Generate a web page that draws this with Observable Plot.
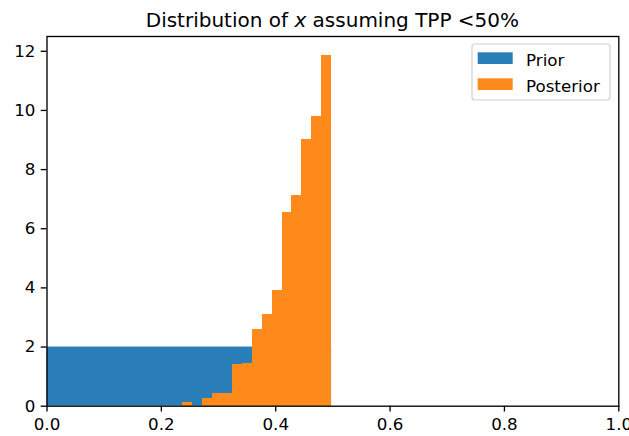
<!DOCTYPE html>
<html>
<head>
<meta charset="utf-8">
<script src="https://cdn.jsdelivr.net/npm/d3@7"></script>
<script src="https://cdn.jsdelivr.net/npm/@observablehq/plot@0.6"></script>
<style>
  html, body { margin: 0; padding: 0; background: #fff; }
  #chart { position: relative; width: 629px; height: 436px; }
</style>
</head>
<body>
<div id="chart"></div>
<script>
// ---- data ----
const seriesNames = ["Prior", "Posterior"];
const seriesColors = ["#2a7fb8", "#ff8a1c"];

// Prior histogram (density): one flat bin
const priorEdges = [0, 0.4977];
const priorDensity = [2];

// Posterior histogram (density): 15 bins
const posteriorEdges = [0.2376, 0.2550, 0.2723, 0.2897, 0.3070, 0.3243, 0.3417, 0.3590,
                        0.3764, 0.3937, 0.4110, 0.4284, 0.4457, 0.4631, 0.4804, 0.4977];
const posteriorDensity = [0.135, 0, 0.25, 0.42, 0.42, 1.40, 1.45, 2.59, 3.11, 3.92,
                          6.55, 7.12, 9.01, 9.81, 11.87];

const xTicks = [0, 0.2, 0.4, 0.6, 0.8, 1.0];
const yTicks = [0, 2, 4, 6, 8, 10, 12];

// ---- build tables ----
const toBins = (edges, dens, name) =>
  dens.map((d, i) => ({x1: edges[i], x2: edges[i + 1], y: d, series: name}));
const prior = toBins(priorEdges, priorDensity, seriesNames[0]);
const posterior = toBins(posteriorEdges, posteriorDensity, seriesNames[1]);

const W = 629, H = 436;
const ml = 46.5, mr = 10.7, mt = 36, mb = 30.3;
const lw = 1.33;

const plot = Plot.plot({
  width: W,
  height: H,
  marginLeft: ml,
  marginRight: mr,
  marginTop: mt,
  marginBottom: mb,
  style: {fontFamily: "DejaVu Sans", fontSize: "16.7px", color: "#000", background: "#fff", overflow: "visible"},
  x: {domain: [0, 1]},
  y: {domain: [0, 12.5]},
  color: {domain: seriesNames, range: seriesColors},
  marks: [
    Plot.rectY(prior, {x1: "x1", x2: "x2", y1: 0, y2: "y", fill: "series"}),
    Plot.rectY(posterior, {x1: "x1", x2: "x2", y1: 0, y2: "y", fill: "series", shapeRendering: "crispEdges"}),
    Plot.axisX({ticks: xTicks, tickFormat: d3.format(".1f"), tickSize: 5.8, tickPadding: 5.8,
                label: null, stroke: "#000", strokeWidth: lw, fill: "#000"}),
    Plot.axisY({ticks: yTicks, tickFormat: d3.format("d"), tickSize: 5.8, tickPadding: 5.8,
                label: null, stroke: "#000", strokeWidth: lw, fill: "#000"}),
    Plot.frame({stroke: "#000", strokeWidth: lw})
  ]
});

document.getElementById("chart").appendChild(plot);

const svg = d3.select(plot);

// Title with italic x
const cx = ml + (W - ml - mr) / 2;
const title = svg.append("text")
  .attr("x", cx).attr("y", 26.5)
  .attr("text-anchor", "middle")
  .attr("font-family", "DejaVu Sans")
  .attr("font-size", "20px")
  .attr("fill", "#000");
title.append("tspan").text("Distribution of ");
title.append("tspan").attr("font-style", "italic").text("x");
title.append("tspan").text(" assuming TPP <50%");

// Legend
const lg = svg.append("g").attr("text-anchor", "start");
lg.append("rect")
  .attr("x", 472).attr("y", 44).attr("width", 138).attr("height", 56)
  .attr("rx", 3).attr("ry", 3)
  .attr("fill", "#fff").attr("fill-opacity", 0.8)
  .attr("stroke", "#d0d0d0").attr("stroke-width", 1.2);
seriesNames.forEach((name, i) => {
  const yy = 52.3 + i * 26;
  lg.append("rect")
    .attr("x", 477.7).attr("y", yy).attr("width", 35).attr("height", 11.7)
    .attr("fill", seriesColors[i]);
  lg.append("text")
    .attr("x", 526).attr("y", yy + 13.5)
    .attr("text-anchor", "start")
    .attr("font-family", "DejaVu Sans").attr("font-size", "16.7px")
    .attr("fill", "#000")
    .text(name);
});
</script>
</body>
</html>
